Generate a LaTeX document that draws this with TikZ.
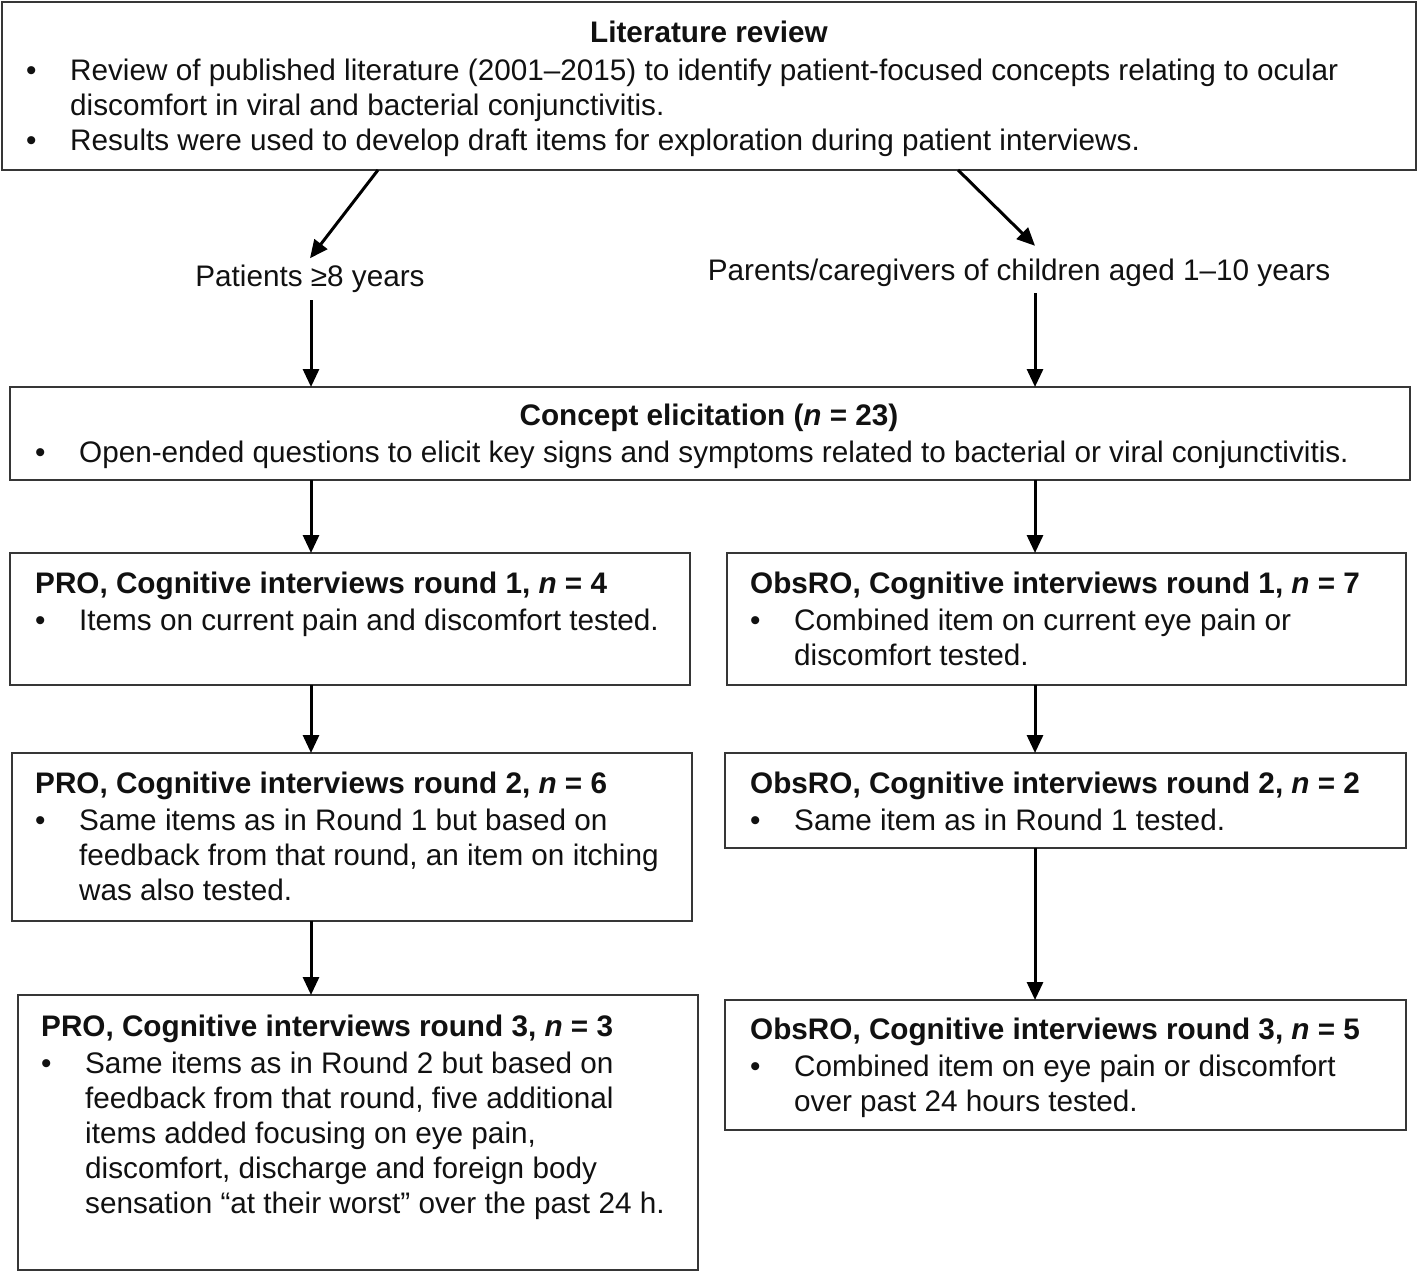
\documentclass[tikz,border=0pt]{standalone}
\usepackage{fontspec}
\setmainfont{Liberation Sans}
\usetikzlibrary{arrows.meta,calc}
\definecolor{boxc}{HTML}{363636}
\definecolor{txtc}{HTML}{111111}
\newcommand{\bt}{\makebox[44pt][l]{•}}
\newcommand{\ind}{\hspace*{44pt}}
\newenvironment{lines}{\begin{tabular}[t]{@{}l@{}}}{\end{tabular}}
\begin{document}
\begin{tikzpicture}[x=1pt,y=-1pt,
 box/.style={draw=boxc,line width=1.8pt,anchor=north west,inner sep=0pt,outer sep=0pt},
 txt/.style={anchor=base west,inner sep=0pt,font=\fontsize{29.7}{35}\selectfont,text=txtc},
 ttl/.style={anchor=base,inner sep=0pt,font=\fontsize{29.7}{35}\selectfont\bfseries,text=txtc},
 lab/.style={anchor=base,inner sep=7pt,font=\fontsize{29.7}{35}\selectfont,text=txtc},
 arr/.style={line width=3pt,-{Triangle[length=18pt,width=16pt]}}]
\fill[white] (0,0) rectangle (1418,1273);
\useasboundingbox (0,0) rectangle (1418,1273);
\coordinate (colL) at (311,0);
\coordinate (colR) at (1035,0);

% boxes
\node[box,minimum width=1414pt,minimum height=168pt] (lit) at (2,2) {};
\node[box,minimum width=1400pt,minimum height=93pt] (cel) at (10,387) {};
\node[box,minimum width=680pt,minimum height=132pt] (pro1) at (10,553) {};
\node[box,minimum width=679pt,minimum height=132pt] (obs1) at (727,553) {};
\node[box,minimum width=680pt,minimum height=168pt] (pro2) at (12,753) {};
\node[box,minimum width=681pt,minimum height=95pt] (obs2) at (725,753) {};
\node[box,minimum width=680pt,minimum height=275pt] (pro3) at (18,995) {};
\node[box,minimum width=681pt,minimum height=130pt] (obs3) at (725,1000) {};

% texts
\node[ttl] (litT) at (709,43) {Literature review};
\node[txt] (litB) at (26,80.5) {\begin{lines}
\bt Review of published literature (2001–2015) to identify patient-focused concepts relating to ocular\\
\ind discomfort in viral and bacterial conjunctivitis.\\
\bt Results were used to develop draft items for exploration during patient interviews.\end{lines}};

\node[lab] (pat) at (310,287) {Patients ≥8 years};
\node[lab] (par) at (1019,280) {Parents/caregivers of children aged 1–10 years};

\node[ttl] (celT) at (709,425) {Concept elicitation (\textit{n} = 23)};
\node[txt] (celB) at (35,462) {\bt Open-ended questions to elicit key signs and symptoms related to bacterial or viral conjunctivitis.};

\node[txt] (pro1T) at (35,593) {\begin{lines}{\bfseries PRO, Cognitive interviews round 1, \textit{n} = 4}\\[2pt]
\bt Items on current pain and discomfort tested.\end{lines}};
\node[txt] (obs1T) at (750,593) {\begin{lines}{\bfseries ObsRO, Cognitive interviews round 1, \textit{n} = 7}\\[2pt]
\bt Combined item on current eye pain or\\
\ind discomfort tested.\end{lines}};
\node[txt] (pro2T) at (35,793.5) {\begin{lines}{\bfseries PRO, Cognitive interviews round 2, \textit{n} = 6}\\[2pt]
\bt Same items as in Round 1 but based on\\
\ind feedback from that round, an item on itching\\
\ind was also tested.\end{lines}};
\node[txt] (obs2T) at (750,793.5) {\begin{lines}{\bfseries ObsRO, Cognitive interviews round 2, \textit{n} = 2}\\[2pt]
\bt Same item as in Round 1 tested.\end{lines}};
\node[txt] (pro3T) at (41,1036) {\begin{lines}{\bfseries PRO, Cognitive interviews round 3, \textit{n} = 3}\\[2pt]
\bt Same items as in Round 2 but based on\\
\ind feedback from that round, five additional\\
\ind items added focusing on eye pain,\\
\ind discomfort, discharge and foreign body\\
\ind sensation “at their worst” over the past 24 h.\end{lines}};
\node[txt] (obs3T) at (750,1039) {\begin{lines}{\bfseries ObsRO, Cognitive interviews round 3, \textit{n} = 5}\\[2pt]
\bt Combined item on eye pain or discomfort\\
\ind over past 24 hours tested.\end{lines}};

% arrows
\draw[arr] ($(lit.south west)+(376,0)$) -- (pat.north);
\draw[arr] ($(lit.south west)+(956,0)$) -- ($(par.north)+(16,-5.5)$);
\draw[arr] (pat.south -| colL) -- (cel.north -| colL);
\draw[arr] (par.south -| colR) -- (cel.north -| colR);
\draw[arr] (cel.south -| colL) -- (pro1.north -| colL);
\draw[arr] (cel.south -| colR) -- (obs1.north -| colR);
\draw[arr] (pro1.south -| colL) -- (pro2.north -| colL);
\draw[arr] (obs1.south -| colR) -- (obs2.north -| colR);
\draw[arr] (pro2.south -| colL) -- (pro3.north -| colL);
\draw[arr] (obs2.south -| colR) -- (obs3.north -| colR);
\end{tikzpicture}
\end{document}
